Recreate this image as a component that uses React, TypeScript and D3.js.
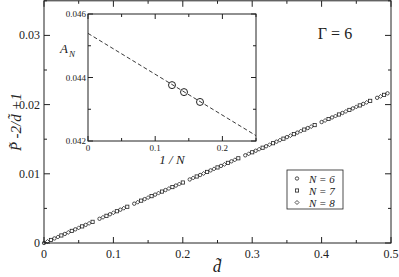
import React from "react";
import * as d3 from "d3";

const xTicksMain = [0, 0.1, 0.2, 0.3, 0.4, 0.5];
const yTicksMain = [0, 0.01, 0.02, 0.03];
const xTicksInset = [0, 0.1, 0.2];
const yTicksInset = [0.042, 0.044, 0.046];

const d6 = [0, 0.015, 0.03, 0.045, 0.06, 0.08, 0.095, 0.11, 0.13, 0.145, 0.16, 0.175, 0.19, 0.21, 0.225, 0.24, 0.255, 0.27, 0.29, 0.305, 0.32, 0.335, 0.35, 0.365, 0.38, 0.4, 0.415, 0.43, 0.445, 0.46, 0.48, 0.495];
const v6 = [0, 0.00066, 0.00131, 0.00197, 0.00262, 0.0035, 0.00415, 0.00481, 0.00568, 0.00634, 0.00699, 0.00765, 0.0083, 0.00918, 0.00983, 0.01049, 0.01114, 0.0118, 0.01267, 0.01333, 0.01398, 0.01464, 0.0153, 0.01595, 0.01661, 0.01748, 0.01814, 0.01879, 0.01945, 0.0201, 0.02098, 0.02163];
const d7 = [0.01, 0.025, 0.04, 0.055, 0.07, 0.09, 0.105, 0.12, 0.14, 0.155, 0.17, 0.185, 0.2, 0.22, 0.235, 0.25, 0.265, 0.28, 0.3, 0.315, 0.33, 0.345, 0.36, 0.375, 0.39, 0.41, 0.425, 0.44, 0.455, 0.47, 0.49];
const v7 = [0.00044, 0.00109, 0.00175, 0.0024, 0.00306, 0.00393, 0.00459, 0.00524, 0.00612, 0.00677, 0.00743, 0.00808, 0.00874, 0.00961, 0.01027, 0.01092, 0.01158, 0.01224, 0.01311, 0.01377, 0.01442, 0.01508, 0.01573, 0.01639, 0.01704, 0.01792, 0.01857, 0.01923, 0.01988, 0.02054, 0.02141];
const d8 = [0.005, 0.02, 0.035, 0.05, 0.065, 0.085, 0.1, 0.115, 0.135, 0.15, 0.165, 0.18, 0.195, 0.215, 0.23, 0.245, 0.26, 0.275, 0.295, 0.31, 0.325, 0.34, 0.355, 0.37, 0.385, 0.405, 0.42, 0.435, 0.45, 0.465, 0.485];
const v8 = [0.00022, 0.00087, 0.00153, 0.00219, 0.00284, 0.00371, 0.00437, 0.00503, 0.0059, 0.00656, 0.00721, 0.00787, 0.00852, 0.0094, 0.01005, 0.01071, 0.01136, 0.01202, 0.01289, 0.01355, 0.0142, 0.01486, 0.01551, 0.01617, 0.01682, 0.0177, 0.01835, 0.01901, 0.01967, 0.02032, 0.02119];

const invN = [1 / 8, 1 / 7, 1 / 6];
const aN = [0.04376, 0.04354, 0.04323];
const fitX = [0, 0.25];
const fitY = [0.04539, 0.04217];

const legendLabels = ["6", "7", "8"];

const FONT = "Liberation Serif, DejaVu Serif, serif";
const C = "#222";

export default function App() {
  const W = 399, H = 277;
  const x = d3.scaleLinear().domain([0, 0.5]).range([44, 391]);
  const y = d3.scaleLinear().domain([0, 0.035]).range([243, 0.8]);
  const ix = d3.scaleLinear().domain([0, 0.25]).range([88, 256]);
  const iy = d3.scaleLinear().domain([0.042, 0.046]).range([141, 14]);

  const xMinor = d3.range(0, 0.5001, 0.05);
  const yMinor = d3.range(0, 0.0351, 0.005);
  const ixMinor = d3.range(0, 0.2501, 0.05);
  const iyMinor = d3.range(0.042, 0.04601, 0.001);

  const isMajor = (v: number, step: number) => Math.abs(v / step - Math.round(v / step)) < 1e-6;

  const fitLine = d3.line<number>().x((_, i) => ix(fitX[i])).y((_, i) => iy(fitY[i]));

  const marker = (kind: number, cx: number, cy: number, key: string) => {
    if (kind === 0) return <circle key={key} cx={cx} cy={cy} r={1.7} fill="none" stroke={C} strokeWidth={0.8} />;
    if (kind === 1) return <rect key={key} x={cx - 1.6} y={cy - 1.6} width={3.2} height={3.2} fill="none" stroke={C} strokeWidth={0.8} />;
    return <path key={key} d={`M${cx},${cy - 2}L${cx + 2},${cy}L${cx},${cy + 2}L${cx - 2},${cy}Z`} fill="none" stroke={C} strokeWidth={0.8} />;
  };

  const series = [
    { d: d6, v: v6 },
    { d: d7, v: v7 },
    { d: d8, v: v8 },
  ];

  return (
    <svg width={W} height={H} style={{ position: "absolute", left: 0, top: 0, background: "#fff", fontFamily: FONT }}>
      <rect x={0} y={0} width={W} height={H} fill="#fff" />
      <rect x={x(0)} y={y(0.035)} width={x(0.5) - x(0)} height={y(0) - y(0.035)} fill="none" stroke={C} strokeWidth={1} />
      {xMinor.map((v, i) => {
        const L = isMajor(v, 0.1) ? 6 : 3;
        return (
          <g key={"xm" + i}>
            <line x1={x(v)} x2={x(v)} y1={y(0)} y2={y(0) - L} stroke={C} />
            <line x1={x(v)} x2={x(v)} y1={y(0.035)} y2={y(0.035) + L} stroke={C} />
          </g>
        );
      })}
      {yMinor.map((v, i) => {
        const L = isMajor(v, 0.01) ? 6 : 3;
        return (
          <g key={"ym" + i}>
            <line x1={x(0)} x2={x(0) + L} y1={y(v)} y2={y(v)} stroke={C} />
            <line x1={x(0.5)} x2={x(0.5) - L} y1={y(v)} y2={y(v)} stroke={C} />
          </g>
        );
      })}
      {xTicksMain.map((v) => (
        <text key={"xt" + v} x={x(v)} y={258} fontSize={12} textAnchor="middle" fill={C}>{v === 0 ? "0" : String(v)}</text>
      ))}
      {yTicksMain.map((v) => (
        <text key={"yt" + v} x={40} y={y(v) + 4} fontSize={12} textAnchor="end" fill={C}>{v === 0 ? "0" : String(v)}</text>
      ))}
      {series.map((s, k) => s.d.map((dv, i) => marker(k, x(dv), y(s.v[i]), `p${k}-${i}`)))}

      <text x={217} y={272} fontSize={17} fontStyle="italic" textAnchor="middle" fill={C}>d̃</text>
      <text transform={`translate(21,122) rotate(-90)`} fontSize={15} fontStyle="italic" textAnchor="middle" fill={C}>P̃ -2/d̃ +1</text>
      <text x={335} y={39} fontSize={16} textAnchor="middle" fill={C}>Γ = 6</text>

      <rect x={287} y={170} width={56} height={39} fill="#fff" stroke={C} strokeWidth={0.8} />
      {legendLabels.map((lab, i) => (
        <g key={"lg" + i}>
          {marker(i, 297, 178.5 + i * 12, "lm" + i)}
          <text x={309} y={182.5 + i * 12} fontSize={11} fontStyle="italic" fill={C}>N = {lab}</text>
        </g>
      ))}

      <rect x={ix(0)} y={iy(0.046)} width={ix(0.25) - ix(0)} height={iy(0.042) - iy(0.046)} fill="#fff" stroke={C} strokeWidth={1} />
      {ixMinor.map((v, i) => {
        const L = isMajor(v, 0.1) ? 5 : 3;
        return (
          <g key={"ixm" + i}>
            <line x1={ix(v)} x2={ix(v)} y1={iy(0.042)} y2={iy(0.042) - L} stroke={C} />
            <line x1={ix(v)} x2={ix(v)} y1={iy(0.046)} y2={iy(0.046) + L} stroke={C} />
          </g>
        );
      })}
      {iyMinor.map((v, i) => {
        const L = isMajor(v - 0.042, 0.002) ? 5 : 3;
        return (
          <g key={"iym" + i}>
            <line x1={ix(0)} x2={ix(0) + L} y1={iy(v)} y2={iy(v)} stroke={C} />
            <line x1={ix(0.25)} x2={ix(0.25) - L} y1={iy(v)} y2={iy(v)} stroke={C} />
          </g>
        );
      })}
      {xTicksInset.map((v) => (
        <text key={"ixt" + v} x={ix(v)} y={151} fontSize={9} textAnchor="middle" fill={C}>{v === 0 ? "0" : String(v)}</text>
      ))}
      {yTicksInset.map((v) => (
        <text key={"iyt" + v} x={86} y={iy(v) + 3} fontSize={9} textAnchor="end" fill={C}>{v.toFixed(3)}</text>
      ))}
      <path d={fitLine(fitX) || ""} fill="none" stroke={C} strokeWidth={0.9} strokeDasharray="4,2.5" />
      {invN.map((v, i) => (
        <circle key={"ic" + i} cx={ix(v)} cy={iy(aN[i])} r={3.5} fill="none" stroke={C} strokeWidth={1} />
      ))}
      <text x={60} y={53} fontSize={13} fontStyle="italic" fill={C}>A<tspan fontSize={9} dx={1} dy={4}>N</tspan></text>
      <text x={172} y={164} fontSize={13} fontStyle="italic" textAnchor="middle" fill={C}>1 / N</text>
    </svg>
  );
}
